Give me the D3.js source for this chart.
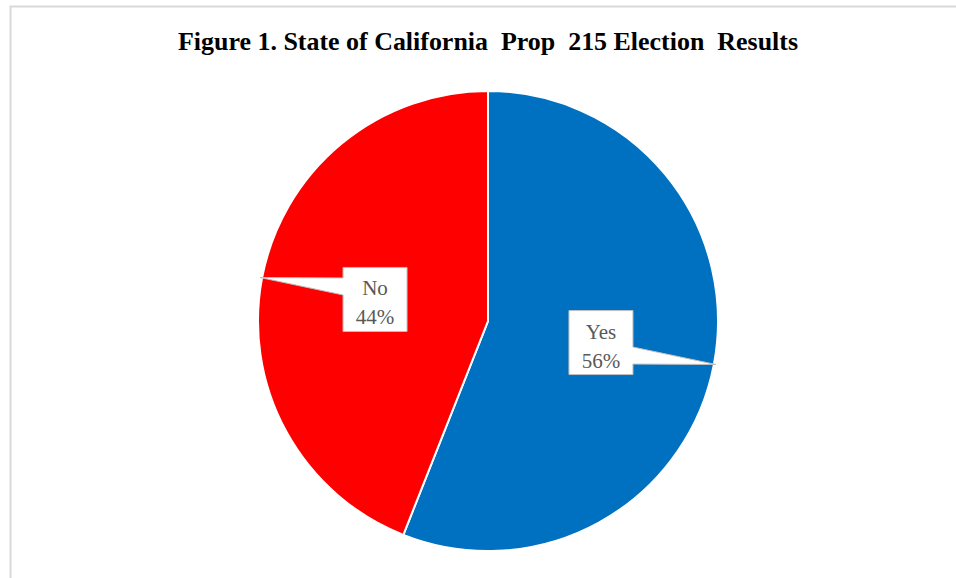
<!DOCTYPE html>
<html>

<head>
    <title>Prop 215 Election Results</title>
    <script src="https://d3js.org/d3.v7.min.js"></script>
    <style>
        body { margin: 0; background: #fff; }
    </style>
</head>

<body>
    <svg width="956" height="578"></svg>

    <script>
        // data
        const categories = ["Yes", "No"];
        const values = [56, 44];
        const colors = ["#0070C0", "#FF0000"];
        const title = "Figure 1. State of California  Prop  215 Election  Results";

        const width = 956;
        const height = 578;
        const cx = 488;
        const cy = 321;
        const radius = 230;

        const svg = d3.select("svg");

        // chart frame
        svg.append("rect")
            .attr("x", 10.5)
            .attr("y", 6.5)
            .attr("width", width)
            .attr("height", height)
            .attr("fill", "#fff")
            .attr("stroke", "#d9d9d9")
            .attr("stroke-width", 2);

        svg.append("text")
            .attr("x", cx)
            .attr("y", 50)
            .attr("text-anchor", "middle")
            .attr("textLength", 620)
            .attr("lengthAdjust", "spacingAndGlyphs")
            .style("font-family", "'Liberation Serif', 'Times New Roman', serif")
            .style("font-weight", "bold")
            .style("font-size", "26px")
            .style("white-space", "pre")
            .attr("fill", "#000")
            .text(title);

        const pie = d3.pie().sort(null).value((d) => d.value);
        const arcs = pie(categories.map((c, i) => ({ name: c, value: values[i], color: colors[i] })));
        const arc = d3.arc().innerRadius(0).outerRadius(radius);
        const tipArc = d3.arc().innerRadius(radius + 2).outerRadius(radius + 2);
        const labelArc = d3.arc().innerRadius(0).outerRadius(radius);

        const g = svg.append("g").attr("transform", `translate(${cx},${cy})`);

        g.selectAll("path.slice")
            .data(arcs)
            .enter()
            .append("path")
            .attr("class", "slice")
            .attr("d", arc)
            .attr("fill", (d) => d.data.color)
            .attr("stroke", "#fff")
            .attr("stroke-width", 2);

        // callout labels
        const boxW = 64, boxH = 64;
        const callout = g.selectAll("g.callout")
            .data(arcs)
            .enter()
            .append("g")
            .attr("class", "callout");

        callout.append("path")
            .attr("d", (d) => {
                const [bx, by] = labelArc.centroid(d);
                const [tx, ty] = tipArc.centroid(d);
                const x0 = bx - boxW / 2, x1 = bx + boxW / 2;
                const y0 = by - boxH / 2, y1 = by + boxH / 2;
                const s = ty < by ? -1 : 1;
                const ya = by + s * 4.5, yb = by + s * 21.5;
                const p = d3.path();
                if (tx > bx) {
                    p.moveTo(x0, y0); p.lineTo(x1, y0);
                    p.lineTo(x1, Math.min(ya, yb)); p.lineTo(tx, ty); p.lineTo(x1, Math.max(ya, yb));
                    p.lineTo(x1, y1); p.lineTo(x0, y1);
                } else {
                    p.moveTo(x0, y0); p.lineTo(x1, y0); p.lineTo(x1, y1); p.lineTo(x0, y1);
                    p.lineTo(x0, Math.max(ya, yb)); p.lineTo(tx, ty); p.lineTo(x0, Math.min(ya, yb));
                }
                p.closePath();
                return p.toString();
            })
            .attr("fill", "#fff")
            .attr("stroke", "#bfbfbf")
            .attr("stroke-width", 1);

        const label = callout.append("text")
            .attr("text-anchor", "middle")
            .style("font-family", "'Liberation Serif', 'Times New Roman', serif")
            .style("font-size", "21px")
            .attr("fill", "#595959");

        label.append("tspan")
            .attr("x", (d) => labelArc.centroid(d)[0])
            .attr("y", (d) => labelArc.centroid(d)[1] - 4)
            .text((d) => d.data.name);

        label.append("tspan")
            .attr("x", (d) => labelArc.centroid(d)[0])
            .attr("y", (d) => labelArc.centroid(d)[1] + 25)
            .text((d) => Math.round(d.data.value / d3.sum(values) * 100) + "%");
    </script>
</body>

</html>
